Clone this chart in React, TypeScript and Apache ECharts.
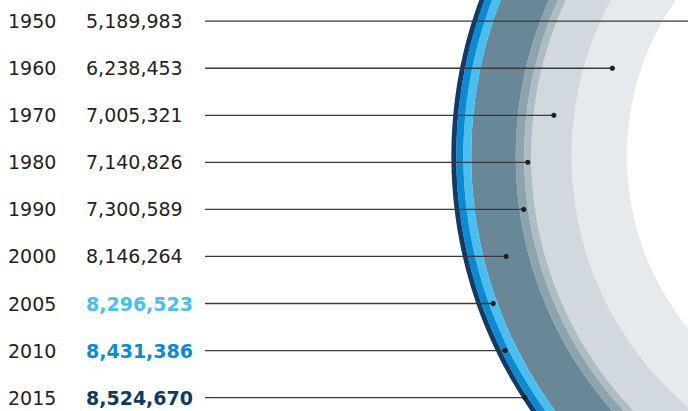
import React, { useEffect, useRef } from "react";
import * as echarts from "echarts";

// ---- data ----
const years = ["1950", "1960", "1970", "1980", "1990", "2000", "2005", "2010", "2015"];
const population = [5189983, 6238453, 7005321, 7140826, 7300589, 8146264, 8296523, 8431386, 8524670];
const highlighted = [false, false, false, false, false, false, true, true, true];

// ---- styles ----
const ringColors = ["#ffffff", "#e6eaed", "#d1d9df", "#aebcc5", "#8fa3ae", "#6a8797", "#4bbdee", "#0a8ad1", "#0b3c6c"];
const numberColors = ["#231f20", "#231f20", "#231f20", "#231f20", "#231f20", "#231f20", "#4bbfec", "#0b8bd4", "#0d3b66"];
const TEXT = "#231f20";
const FONT = "'DejaVu Sans', sans-serif";
const CENTER_ROW = 2.865; // vertical position of the circles' centre, in row units
const X_MIN = 4028000; // distance from the centre at the right edge of the chart
const X_MAX = 17100000; // distance from the centre at the left edge of the chart
const YEAR_X = 8;
const NUM_X = 86;
const LINE_X = 205;

export default function App() {
  const ref = useRef<HTMLDivElement>(null);
  useEffect(() => {
    if (!ref.current) return;
    const chart = echarts.init(ref.current, null, { renderer: "svg" });
    const data = population.map((p, i) => [p, i, i > 0 ? population[i - 1] : 0]);

    const radii = (api: any) => {
      const c = api.coord([0, CENTER_ROW]);
      const rOut = c[0] - api.coord([api.value(0), CENTER_ROW])[0];
      const rIn = c[0] - api.coord([api.value(2), CENTER_ROW])[0];
      return { c, rOut, rIn };
    };

    const ringItem = (params: any, api: any) => {
      const { c, rOut, rIn } = radii(api);
      return {
        type: "ring",
        shape: { cx: c[0], cy: c[1], r: rOut, r0: rIn },
        style: { fill: ringColors[params.dataIndex] },
      };
    };

    const lineItem = (params: any, api: any) => {
      const idx = params.dataIndex;
      const pop = api.value(0);
      const { c, rOut, rIn } = radii(api);
      const rMid = (rOut + rIn) / 2;
      const y = api.coord([X_MIN, api.value(1)])[1];
      const dy = y - c[1];
      const dotX = c[0] - Math.sqrt(Math.max(rMid * rMid - dy * dy, 0));
      const bold = highlighted[idx];
      return {
        type: "group",
        children: [
          {
            type: "line",
            shape: { x1: LINE_X, y1: y, x2: dotX, y2: y },
            style: { stroke: "#3a3a3a", lineWidth: 1.3 },
          },
          {
            type: "circle",
            shape: { cx: dotX, cy: y, r: 2.6 },
            style: { fill: "#231f20" },
          },
          {
            type: "text",
            style: {
              text: years[idx],
              x: YEAR_X,
              y: y,
              fill: TEXT,
              fontFamily: FONT,
              fontSize: 19,
              fontWeight: "normal",
              align: "left",
              verticalAlign: "middle",
            },
          },
          {
            type: "text",
            style: {
              text: pop.toLocaleString("en-US"),
              x: NUM_X,
              y: y,
              fill: numberColors[idx],
              fontFamily: FONT,
              fontSize: 19,
              fontWeight: bold ? "bold" : "normal",
              align: "left",
              verticalAlign: "middle",
            },
          },
        ],
      };
    };

    chart.setOption({
      animation: false,
      grid: { left: 0, right: 0, top: 21.2, bottom: 13.4 },
      xAxis: { type: "value", inverse: true, min: X_MIN, max: X_MAX, show: false },
      yAxis: { type: "value", inverse: true, min: 0, max: 8, show: false },
      series: [
        { type: "custom", renderItem: ringItem, data, z: 1, silent: true, clip: false },
        { type: "custom", renderItem: lineItem, data, z: 2, silent: true, clip: false },
      ],
    });
    return () => chart.dispose();
  }, []);
  return (
    <div
      ref={ref}
      style={{ position: "absolute", left: 0, top: 0, width: 688, height: 411, background: "#fff" }}
    />
  );
}
